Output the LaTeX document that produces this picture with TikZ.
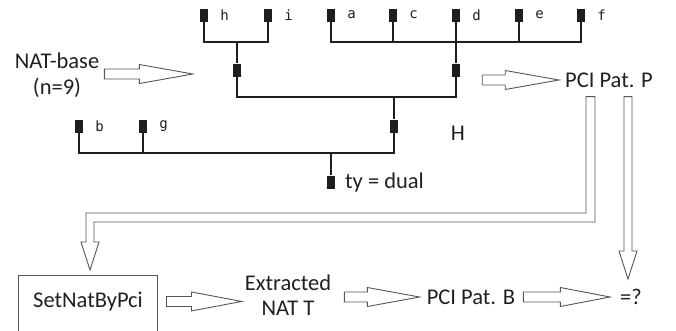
\documentclass[tikz,border=0pt]{standalone}
\usepackage{fontspec}
\setmainfont{Carlito}
\newfontfamily\leaffont{DejaVu Sans Mono}
\usetikzlibrary{calc}
\definecolor{treecol}{HTML}{1E1E1E}
\definecolor{arrcol}{HTML}{555555}
\definecolor{textcol}{HTML}{202020}
\newcommand\harrow[3]{%
  \draw[hollow] let \p1=#1, \p2=#2 in
   (\x1,\y1+5pt) -- (\x1+#3,\y1+5pt) -- (\x1+#3,\y1+9.5pt) -- (\x2,\y1)
   -- (\x1+#3,\y1-9.5pt) -- (\x1+#3,\y1-5pt) -- (\x1,\y1-5pt) -- cycle;}
\begin{document}
\begin{tikzpicture}[x=1pt,y=-1pt,
  leaf/.style={rectangle,fill=treecol,minimum width=8pt,minimum height=13pt,inner sep=0pt},
  tree/.style={draw=treecol,line width=1.6pt},
  lbl/.style={font=\leaffont\fontsize{14}{14}\selectfont,inner sep=0pt,text=treecol,label distance=12pt},
  txt/.style={font=\fontsize{22.5}{25.5}\selectfont,inner sep=0pt,text=textcol,align=center},
  hollow/.style={draw=arrcol,line width=0.9pt,fill=white,line join=miter},
  boxst/.style={draw=arrcol,line width=0.9pt,minimum width=139pt,minimum height=58pt,inner sep=0pt,anchor=north}
]
\useasboundingbox (0,0) rectangle (676,330);

% leaves
\node[leaf,label={[lbl]east:h}] (h) at (204,15) {};
\node[leaf,label={[lbl]east:i}] (i) at (268,15) {};
\node[leaf,label={[lbl]east:a}] (a) at (331,15) {};
\node[leaf,label={[lbl]east:c}] (c) at (393,15) {};
\node[leaf,label={[lbl]east:d}] (d) at (456,15) {};
\node[leaf,label={[lbl]east:e}] (e) at (519,15) {};
\node[leaf,label={[lbl]east:f}] (f) at (581,15) {};
\node[leaf] (hi) at (237,70) {};
\node[leaf] (ad) at (456,70) {};
\node[leaf,label={[lbl]east:b}] (b) at (79,126) {};
\node[leaf,label={[lbl]east:g}] (g) at (143,126) {};
\node[leaf] (Hn) at (394,126) {};
\node[leaf] (root) at (331,182) {};

\coordinate (jhi) at (237,42);
\coordinate (jad) at (456,42);
\coordinate (jP) at (394,97);
\coordinate (jr) at (331,153);

\draw[tree] (h) |- (jhi) -| (i);
\draw[tree] (jhi) -- (hi);
\draw[tree] (a) |- (jad) -| (f);
\draw[tree] (c) -- (c |- jad);
\draw[tree] (e) -- (e |- jad);
\draw[tree] (d) -- (ad);
\draw[tree] (hi) |- (jP) -| (ad);
\draw[tree] (jP) -- (Hn);
\draw[tree] (b) |- (jr) -| (Hn);
\draw[tree] (g) -- (g |- jr);
\draw[tree] (jr) -- (root);

% texts
\node[txt] (natbase) at (57,75) {NAT-base\\(n=9)};
\node[txt] (patP) at (609,80) {PCI Pat. P};
\node[txt] (Hlab) at (458,133) {H};
\node[txt,anchor=west] (ty) at (345,182) {ty = dual};
\node[boxst] (setnat) at (87.5,275) {};
\node[txt] (setnattxt) at (88,302) {SetNatByPci};
\node[txt] (extr) at (288,295) {Extracted\\NAT T};
\node[txt] (patB) at (471,297) {PCI Pat. B};
\node[txt] (eq) at (631,297) {=?};

% fat arrows
\harrow{($(natbase.east)+(5,-1)$)}{($(hi.west)+(-40,0)$)}{35pt}
\harrow{($(ad.east)+(22,10)$)}{($(patP.west)+(-6,0)$)}{23pt}
\harrow{($(setnat.east)+(9,-3)$)}{($(extr.west)+(-3,0)$)}{25pt}
\harrow{($(extr.east)+(13,2)$)}{($(patB.west)+(-7,0)$)}{23pt}
\harrow{($(patB.east)+(8,0)$)}{($(eq.west)+(-10,0)$)}{37pt}

% vertical hollow arrows from PCI Pat. P
\coordinate (Ltop) at ($(patP.south)+(-18.5,9)$);
\coordinate (Lcorner) at (0,217.5);
\coordinate (Ltip) at ($(setnat.north)+(2.5,-5)$);
\draw[hollow] let \p1=(Ltop), \p2=(Ltip), \p3=(Lcorner) in
  (\x1-4.5pt,\y1) -- (\x1+4.5pt,\y1) -- (\x1+4.5pt,\y3-4.5pt) -- (\x2+4pt,\y3-4.5pt)
  -- (\x2+4pt,\y2+28pt) -- (\x2+9pt,\y2+28pt) -- (\x2,\y2) -- (\x2-9pt,\y2+28pt)
  -- (\x2-4pt,\y2+28pt) -- (\x2-4pt,\y3+4.5pt) -- (\x1-4.5pt,\y3+4.5pt) -- cycle;

\coordinate (Rtip) at ($(eq.north)+(-3,-10)$);
\coordinate (Rtop) at (Rtip |- Ltop);
\draw[hollow] let \p1=(Rtop), \p2=(Rtip) in
  (\x1-4pt,\y1) -- (\x1+4pt,\y1) -- (\x1+4pt,\y2+28pt) -- (\x1+9pt,\y2+28pt) -- (\x2,\y2)
  -- (\x1-9pt,\y2+28pt) -- (\x1-4pt,\y2+28pt) -- cycle;
\end{tikzpicture}
\end{document}
